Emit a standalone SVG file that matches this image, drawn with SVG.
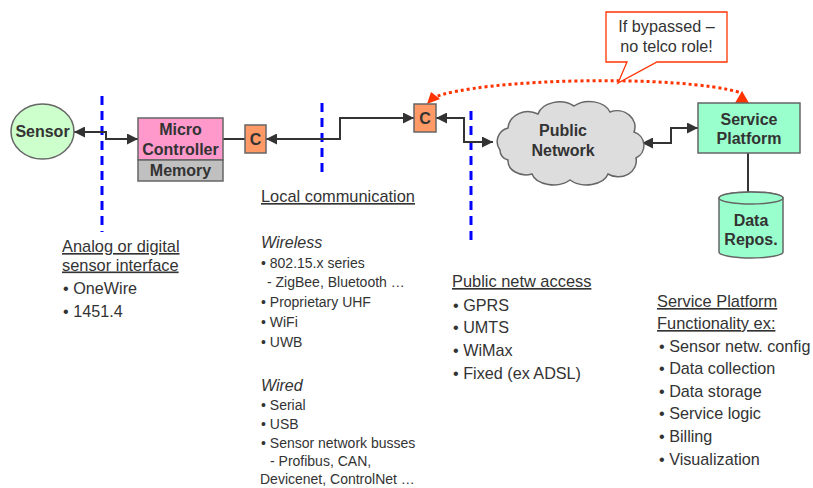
<svg xmlns="http://www.w3.org/2000/svg" width="813" height="488" viewBox="0 0 813 488">
  <style>
    text { font-family: "Liberation Sans", Arial, sans-serif; fill: #333333; }
    .lbl { font-size: 16px; font-weight: bold; text-anchor: middle; }
    .hd { font-size: 16.4px; text-decoration: underline; }
    .it { font-size: 16px; font-style: italic; }
    .li { font-size: 16.2px; }
    .sm { font-size: 14px; }
    .box { stroke: #666666; stroke-width: 1.5; }
    .conn { fill: none; stroke: #333333; stroke-width: 2; }
    .border { fill: none; stroke: #0000ff; stroke-width: 3; stroke-dasharray: 9 6; }
  </style>
  <defs>
    <marker id="ah" viewBox="0 0 10 10" refX="10" refY="5" markerWidth="11" markerHeight="11" markerUnits="userSpaceOnUse" orient="auto-start-reverse">
      <path d="M0,0 L10,5 L0,10 Z" fill="#333333"/>
    </marker>
  </defs>

  <!-- domain borders -->
  <g id="borders">
    <line class="border" x1="102" y1="96" x2="102" y2="232"/>
    <line class="border" x1="322" y1="103" x2="322" y2="175"/>
    <line class="border" x1="471" y1="111" x2="471" y2="246"/>
  </g>

  <!-- connectors -->
  <g id="connectors">
    <path class="conn" d="M74,132 H106 V139 H138" marker-start="url(#ah)" marker-end="url(#ah)"/>
    <line class="conn" x1="223" y1="139" x2="245" y2="139"/>
    <path class="conn" d="M266,139 H340 V118 H414" marker-start="url(#ah)" marker-end="url(#ah)"/>
    <path class="conn" d="M436,118 H464 V142 H493" marker-start="url(#ah)" marker-end="url(#ah)"/>
    <path class="conn" d="M642,143 H671 V128 H698" marker-start="url(#ah)" marker-end="url(#ah)"/>
    <line class="conn" x1="748" y1="153" x2="748" y2="193" stroke="#555555"/>
    <!-- bypass path -->
    <path d="M432,98 C480,78 680,74 742,93" fill="none" stroke="#ff3300" stroke-width="3" stroke-dasharray="3 3"/>
    <polygon points="427,104 431,92 440,99" fill="#ff3300"/>
    <polygon points="742,91 735,103 749,103" fill="#ff3300"/>
  </g>

  <g id="sensor">
    <ellipse class="box" cx="42.5" cy="131.5" rx="31.5" ry="27.5" fill="#ccffcc"/>
    <text class="lbl" x="42.5" y="137">Sensor</text>
  </g>

  <g id="micro">
    <rect class="box" x="138" y="118" width="85" height="42" fill="#ff99cc"/>
    <rect class="box" x="138" y="160" width="85" height="21" fill="#c0c0c0"/>
    <text class="lbl" x="180.5" y="135">Micro</text>
    <text class="lbl" x="180.5" y="155">Controller</text>
    <text class="lbl" x="180.5" y="176">Memory</text>
  </g>

  <g id="c1">
    <rect class="box" x="245" y="125" width="21" height="28" fill="#ff9966"/>
    <text class="lbl" x="255.5" y="145">C</text>
  </g>

  <g id="c2">
    <rect class="box" x="414" y="104" width="22" height="28" fill="#ff9966"/>
    <text class="lbl" x="425" y="124">C</text>
  </g>

  <g id="cloud">
    <path class="box" fill="#dddddd" d="M500,150 a14,14 0 0 1 8,-22 a20,18 0 0 1 30,-14 a22,16 0 0 1 36,-8 a22,16 0 0 1 36,6 a18,16 0 0 1 24,20 a14,14 0 0 1 2,26 a18,16 0 0 1 -28,16 a22,14 0 0 1 -38,6 a22,14 0 0 1 -38,-6 a18,14 0 0 1 -24,-14 a10,10 0 0 1 -8,-10 Z"/>
    <text class="lbl" x="563" y="136">Public</text>
    <text class="lbl" x="563" y="156">Network</text>
  </g>

  <g id="platform">
    <rect class="box" x="698" y="103" width="102" height="50" fill="#99ffcc"/>
    <text class="lbl" x="749" y="125">Service</text>
    <text class="lbl" x="749" y="144">Platform</text>
  </g>

  <g id="repository">
    <path class="box" fill="#99ffcc" d="M719,198 A32,6 0 0 1 783,198 V252 A32,6 0 0 1 719,252 Z"/>
    <ellipse class="box" cx="751" cy="198" rx="32" ry="6" fill="#99ffcc"/>
    <text class="lbl" x="751" y="226">Data</text>
    <text class="lbl" x="751" y="245">Repos.</text>
  </g>

  <g id="callout">
    <path d="M606,12 H727 V62 H657 L618,83 L627,62 H606 Z" fill="#ffffff" stroke="#ff3300" stroke-width="1.3"/>
    <text class="li" x="666.5" y="32" text-anchor="middle">If bypassed –</text>
    <text class="li" x="666.5" y="52" text-anchor="middle">no telco role!</text>
  </g>

  <!-- sensor interface notes -->
  <g id="notes-sensor">
    <text class="hd" x="62" y="252">Analog or digital</text>
    <text class="hd" x="62" y="270.5">sensor interface</text>
    <text class="li" x="63" y="294">• OneWire</text>
    <text class="li" x="63" y="316.5">• 1451.4</text>
  </g>

  <!-- local communication notes -->
  <g id="notes-local">
    <text class="hd" x="261" y="202">Local communication</text>
    <text class="it" x="261" y="248">Wireless</text>
    <text class="sm" x="261" y="268">• 802.15.x series</text>
    <text class="sm" x="267" y="287">- ZigBee, Bluetooth …</text>
    <text class="sm" x="261" y="307">• Proprietary UHF</text>
    <text class="sm" x="261" y="327">• WiFi</text>
    <text class="sm" x="261" y="347">• UWB</text>
    <text class="it" x="261" y="391">Wired</text>
    <text class="sm" x="261" y="410">• Serial</text>
    <text class="sm" x="261" y="429">• USB</text>
    <text class="sm" x="261" y="448">• Sensor network busses</text>
    <text class="sm" x="270" y="466">- Profibus, CAN,</text>
    <text class="sm" x="260" y="484">Devicenet, ControlNet …</text>
  </g>

  <!-- public network access notes -->
  <g id="notes-access">
    <text class="hd" x="452" y="287">Public netw access</text>
    <text class="li" x="453" y="310.5">• GPRS</text>
    <text class="li" x="453" y="333">• UMTS</text>
    <text class="li" x="453" y="355.5">• WiMax</text>
    <text class="li" x="453" y="379">• Fixed (ex ADSL)</text>
  </g>

  <!-- service platform notes -->
  <g id="notes-platform">
    <text class="hd" x="657" y="307">Service Platform</text>
    <text class="hd" x="657" y="329">Functionality ex:</text>
    <text class="li" x="659" y="352">• Sensor netw. config</text>
    <text class="li" x="659" y="374">• Data collection</text>
    <text class="li" x="659" y="396.5">• Data storage</text>
    <text class="li" x="659" y="419">• Service logic</text>
    <text class="li" x="659" y="442">• Billing</text>
    <text class="li" x="659" y="465">• Visualization</text>
  </g>
</svg>
